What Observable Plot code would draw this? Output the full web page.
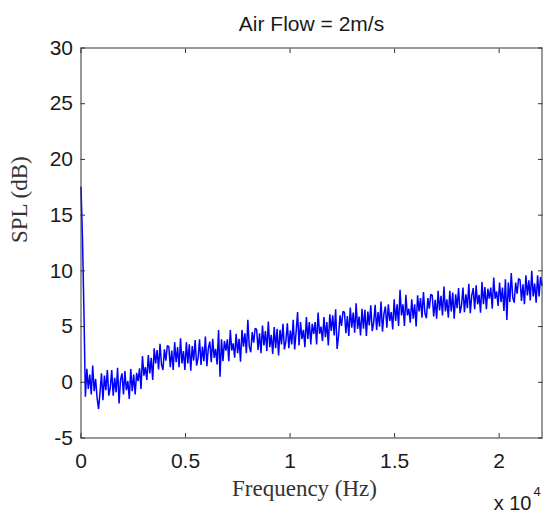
<!DOCTYPE html>
<html><head><meta charset="utf-8">
<script src="https://cdn.jsdelivr.net/npm/d3@7"></script>
<script src="https://cdn.jsdelivr.net/npm/@observablehq/plot@0.6"></script>
<style>body{margin:0;background:#fff}</style>
</head><body><div id="chart"></div>
<script>
const title = "Air Flow = 2m/s";
const xLabel = "Frequency (Hz)";
const yLabel = "SPL (dB)";
const xExponentBase = "x 10";
const xExponentPower = "4";
const binHz = 70; // spacing of the spectrum bins, Hz
const xTicks = [0, 5000, 10000, 15000, 20000];
const xTickLabels = ["0", "0.5", "1", "1.5", "2"];
const yTicks = [-5, 0, 5, 10, 15, 20, 25, 30];
const xDomain = [0, 22050];
const yDomain = [-5, 30];

// SPL (dB) per bin
const splValues = [
  17.5, 13.0, 6.4, -1.3, 1.2, -0.6, 0.7, -1.1, 1.5, -0.8, 0.3, -1.4, -2.4, -0.9, 0.8, -1.6, 0.6, -0.7, 1.1, -1.2,
  -0.5, 1.1, -1.2, 0.4, -0.9, 1.3, -1.9, 0.2, 0.8, -1.1, 1.0, -0.7, 0.1, -1.5, 1.2, -0.8, 0.7, -1.1, 0.85, 0.1,
  1.25, -0.6, 2.35, 0.6, 1.35, 0.2, 2.45, 0.8, 2.2, 0.2, 3.05, 1.7, 2.9, 1.15, 3.45, 1.6, 1.1, 2.95, 1.95, 3.3,
  3.2, 1.35, 2.85, 1.1, 3.6, 1.8, 3.15, 1.35, 3.95, 1.7, 2.8, 1.1, 3.6, 1.7, 3.4, 1.05, 3.25, 1.95, 3.8, 1.5,
  2.2, 3.85, 1.55, 3.2, 1.9, 4.1, 1.45, 3.05, 3.65, 1.8, 3.9, 2.2, 3.0, 1.6, 4.7, 0.5, 3.85, 1.9, 3.7, 2.85,
  3.85, 1.9, 4.7, 2.85, 3.5, 2.2, 4.35, 2.6, 3.9, 1.85, 4.7, 3.2, 4.4, 2.6, 5.6, 3.2, 2.7, 4.5, 3.55, 4.85,
  4.75, 2.9, 4.4, 2.6, 5.1, 3.3, 4.6, 2.8, 5.45, 3.15, 4.25, 2.55, 4.95, 3.05, 4.8, 2.4, 4.7, 3.4, 5.25, 2.95,
  3.7, 5.3, 3.05, 4.65, 3.4, 5.6, 2.95, 4.55, 6.3, 3.3, 5.4, 3.9, 4.7, 3.15, 5.85, 3.9, 5.4, 3.4, 5.25, 4.35,
  5.4, 3.4, 6.25, 4.35, 5.0, 3.7, 5.85, 4.05, 5.4, 3.3, 6.1, 4.6, 6.0, 4.2, 6.55, 3.0, 4.2, 6.0, 5.05, 6.35,
  6.3, 4.4, 5.95, 4.15, 6.7, 4.9, 6.25, 4.45, 7.1, 4.8, 5.9, 4.2, 6.6, 4.8, 6.5, 4.15, 6.35, 5.1, 6.9, 4.6,
  5.35, 6.95, 4.7, 6.3, 5.0, 7.25, 4.55, 6.15, 6.8, 4.9, 7.0, 5.5, 6.3, 4.75, 7.45, 5.5, 7.0, 5.05, 8.3, 6.0,
  7.0, 5.05, 7.85, 6.0, 6.6, 5.35, 7.45, 5.7, 7.0, 5.0, 7.8, 6.35, 7.55, 5.8, 8.1, 6.2, 5.75, 7.55, 6.6, 7.9,
  7.8, 5.9, 7.4, 5.7, 8.2, 6.45, 7.75, 6.0, 8.6, 6.35, 7.45, 5.8, 8.2, 6.35, 8.05, 5.7, 7.9, 6.65, 8.45, 6.2,
  6.9, 8.5, 6.3, 7.9, 6.65, 8.85, 6.2, 7.8, 8.45, 6.55, 8.7, 7.0, 7.85, 6.25, 9.0, 7.0, 8.55, 6.55, 8.4, 7.5,
  8.5, 6.6, 9.4, 7.5, 8.15, 6.85, 8.95, 7.2, 8.5, 6.4, 9.25, 5.6, 8.95, 7.2, 9.8, 7.6, 7.15, 8.95, 7.95, 9.3,
  9.2, 7.3, 8.8, 7.0, 9.6, 7.8, 9.15, 7.35, 10.0, 7.7, 8.85, 7.15, 9.6, 7.7, 9.45, 8.7
];

const data = splValues.map((v, i) => ({f: i * binHz, spl: v}));

const sans = "'Liberation Sans', Arial, Helvetica, sans-serif";
const serif = "'Liberation Serif', 'Times New Roman', serif";
const axisColor = "#333";
const blue = "#0000ff";

const chart = Plot.plot({
  width: 547,
  height: 513,
  marginLeft: 80.5,
  marginRight: 5.5,
  marginTop: 47.5,
  marginBottom: 75.5,
  style: {fontFamily: sans, fontSize: "21px", color: "#1a1a1a", background: "#fff"},
  x: {domain: xDomain, axis: null},
  y: {domain: yDomain, axis: null},
  marks: [
    Plot.line(data, {x: "f", y: "spl", stroke: blue, strokeWidth: 1.5, strokeLinejoin: "miter"}),
    Plot.frame({stroke: axisColor, strokeWidth: 1}),
    // inward tick marks on all four sides
    Plot.axisX({anchor: "bottom", ticks: xTicks, tickSize: -4.5, fill: "none", label: null, stroke: axisColor}),
    Plot.axisX({anchor: "top", ticks: xTicks, tickSize: -4.5, fill: "none", label: null, stroke: axisColor}),
    Plot.axisY({anchor: "left", ticks: yTicks, tickSize: -4.5, fill: "none", label: null, stroke: axisColor}),
    Plot.axisY({anchor: "right", ticks: yTicks, tickSize: -4.5, fill: "none", label: null, stroke: axisColor}),
    // tick labels
    Plot.axisX({anchor: "bottom", ticks: xTicks, tickSize: 0, tickPadding: 15, label: null, fontSize: 21,
      tickFormat: d => xTickLabels[xTicks.indexOf(d)]}),
    Plot.axisY({anchor: "left", ticks: yTicks, tickSize: 0, tickPadding: 8, label: null, fontSize: 21,
      tickFormat: d => String(d)}),
    // title and labels
    Plot.text([title], {text: d => d, frameAnchor: "top", dy: -17.5, lineAnchor: "bottom", fontSize: 21, fill: "#1a1a1a"}),
    Plot.text([xLabel], {text: d => d, frameAnchor: "bottom", dx: -7, dy: 57.5, lineAnchor: "bottom", fontSize: 23, fontFamily: serif, fill: "#333"}),
    Plot.text([yLabel], {text: d => d, frameAnchor: "left", dx: -61, rotate: -90, lineAnchor: "middle", fontSize: 23, fontFamily: serif, fill: "#333"}),
    Plot.text([xExponentBase], {text: d => d, frameAnchor: "bottom-right", dx: -10.5, dy: 71.5, textAnchor: "end", lineAnchor: "bottom", fontSize: 20, fill: "#1a1a1a"}),
    Plot.text([xExponentPower], {text: d => d, frameAnchor: "bottom-right", dx: -8.5, dy: 57.5, textAnchor: "start", lineAnchor: "bottom", fontSize: 13, fill: "#1a1a1a"})
  ]
});
document.getElementById("chart").appendChild(chart);
</script>
</body></html>
